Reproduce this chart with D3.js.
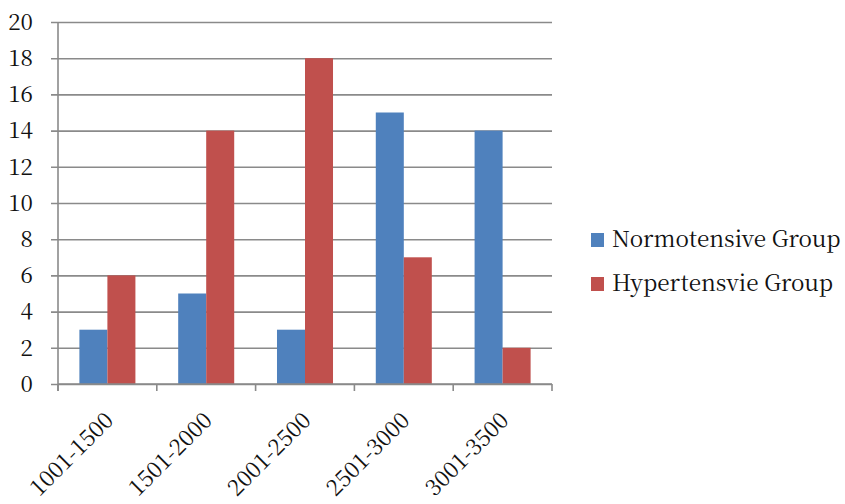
<!DOCTYPE html>
<html>
<head>
<meta charset="utf-8">
<script src="https://d3js.org/d3.v7.min.js"></script>
<style>
  html, body { margin: 0; padding: 0; background: #fff; }
  svg { display: block; }
</style>
</head>
<body>
<svg id="chart" width="845" height="504"></svg>
<script>
// Birth-weight ranges (grams) and counts per group
const categories = ["1001-1500", "1501-2000", "2001-2500", "2501-3000", "3001-3500"];
const normotensive = [3, 5, 3, 15, 14];
const hypertensive = [6, 14, 18, 7, 2];
const seriesNames = ["Normotensive Group", "Hypertensvie Group"];
const seriesColors = ["#4F81BD", "#C0504D"];
const yTicks = [0, 2, 4, 6, 8, 10, 12, 14, 16, 18, 20];

const FONT = '"Noto Serif CJK SC"';
const FS = 22.5;
const AXIS_GREY = "#8a8a8a";

const svg = d3.select("#chart");
const margin = { left: 58, right: 293, top: 22, bottom: 120 };
const W = 845, H = 504;
const plotW = W - margin.left - margin.right;
const plotH = H - margin.top - margin.bottom;

const x = d3.scaleBand().domain(categories).range([0, plotW]);
const inner = d3.scaleBand().domain(seriesNames).range([0, x.bandwidth() * 0.567]);
const y = d3.scaleLinear().domain([0, 20]).range([plotH, 0]);

const g = svg.append("g").attr("transform", `translate(${margin.left},${margin.top})`);

// horizontal gridlines with small outside ticks
const yAxis = d3.axisLeft(y).tickValues(yTicks).tickSize(-plotW).tickSizeOuter(0).tickPadding(25);
const yg = g.append("g").call(yAxis);
yg.attr("font-family", null);
yg.select(".domain").remove();
yg.selectAll(".tick line").attr("x1", -7).attr("stroke", AXIS_GREY).attr("stroke-width", 1.6);
yg.selectAll(".tick text")
  .style("font-family", FONT).style("font-size", FS + "px").style("fill", "#111");

// bars
const rows = categories.map((c, i) => ({ cat: c, vals: [normotensive[i], hypertensive[i]] }));
const groupOffset = (x.bandwidth() - inner.range()[1]) / 2;
g.append("g").selectAll("g").data(rows).join("g")
  .attr("transform", d => `translate(${x(d.cat) + groupOffset},0)`)
  .selectAll("rect").data(d => d.vals.map((v, k) => ({ v, k })))
  .join("rect")
  .attr("x", d => inner(seriesNames[d.k]))
  .attr("width", inner.bandwidth())
  .attr("y", d => y(d.v))
  .attr("height", d => plotH - y(d.v))
  .attr("fill", d => seriesColors[d.k]);

// vertical axis line
g.append("line").attr("x1", 0).attr("x2", 0).attr("y1", 0).attr("y2", plotH + 7)
  .attr("stroke", AXIS_GREY).attr("stroke-width", 1.6);

// category axis with ticks at band boundaries
const xb = g.append("g").attr("transform", `translate(0,${plotH})`);
xb.append("line").attr("x1", 0).attr("x2", plotW).attr("stroke", AXIS_GREY).attr("stroke-width", 1.6);
const bounds = categories.map(c => x(c)).concat([plotW]);
xb.selectAll("line.t").data(bounds).join("line").attr("class", "t")
  .attr("x1", d => d).attr("x2", d => d).attr("y1", 0).attr("y2", 7)
  .attr("stroke", AXIS_GREY).attr("stroke-width", 1.6);
xb.selectAll("text").data(categories).join("text")
  .attr("transform", d => `translate(${x(d) + x.bandwidth() / 2 - 36},${70}) rotate(-45)`)
  .attr("text-anchor", "middle")
  .attr("dy", "0.35em")
  .style("font-family", FONT).style("font-size", FS + "px").style("fill", "#111")
  .text(d => d);

// legend
const lg = svg.append("g").attr("transform", "translate(591,0)");
seriesNames.forEach((n, i) => {
  const yy = 233 + i * 44;
  lg.append("rect").attr("x", 0).attr("y", yy).attr("width", 13).attr("height", 14).attr("fill", seriesColors[i]);
  lg.append("text").attr("x", 21).attr("y", yy + 14)
    .style("font-family", FONT).style("font-size", FS + "px").style("fill", "#111")
    .text(n);
});
</script>
</body>
</html>
